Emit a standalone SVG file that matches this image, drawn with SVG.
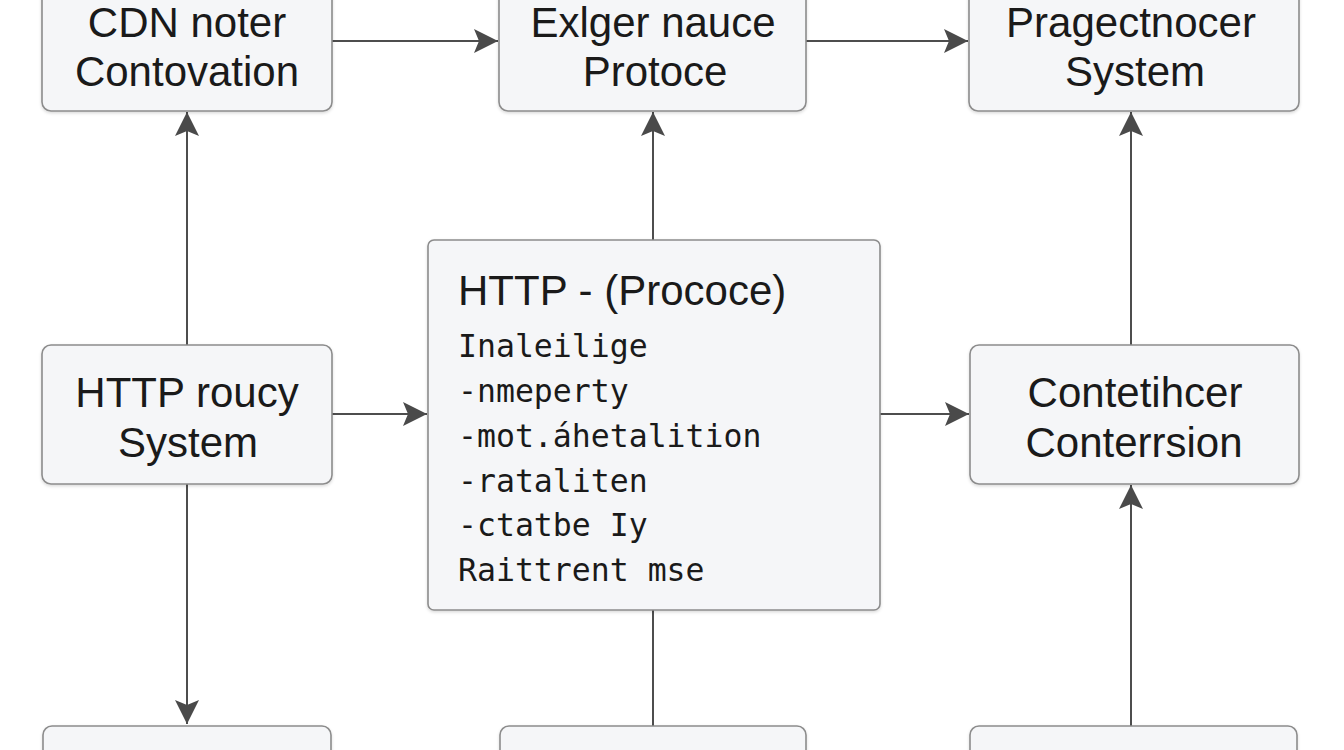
<svg xmlns="http://www.w3.org/2000/svg" width="1344" height="750" viewBox="0 0 1344 750">
  <style>
    .box { fill: #f5f6f8; stroke: #8c8c8c; stroke-width: 1.6; }
    .lbl { font-family: "Liberation Sans", Arial, sans-serif; font-size: 42px; fill: #1a1a1a; text-anchor: middle; }
    .ttl { font-family: "Liberation Sans", Arial, sans-serif; font-size: 42px; fill: #1a1a1a; }
    .mono { font-family: "DejaVu Sans Mono", monospace; font-size: 31.5px; fill: #1a1a1a; }
    .conn { fill: none; stroke: #4d4d4d; stroke-width: 2; }
  </style>
  <defs>
    <marker id="arrow" viewBox="0 0 24 24" refX="24" refY="12" markerWidth="24" markerHeight="24" markerUnits="userSpaceOnUse" orient="auto">
      <path d="M0,0 L24,12 L0,24 L5,12 Z" fill="#4a4a4a"/>
    </marker>
    <filter id="sh" x="-10%" y="-10%" width="120%" height="130%">
      <feDropShadow dx="0" dy="1.5" stdDeviation="1.5" flood-color="#000" flood-opacity="0.15"/>
    </filter>
  </defs>
  <rect x="0" y="0" width="1344" height="750" fill="#ffffff"/>

  <g id="connectors">
    <path class="conn" d="M332,41 H498" marker-end="url(#arrow)"/>
    <path class="conn" d="M806,41 H968" marker-end="url(#arrow)"/>
    <path class="conn" d="M332,414 H427" marker-end="url(#arrow)"/>
    <path class="conn" d="M880,414 H969" marker-end="url(#arrow)"/>
    <path class="conn" d="M187,345 V112" marker-end="url(#arrow)"/>
    <path class="conn" d="M653,240 V112" marker-end="url(#arrow)"/>
    <path class="conn" d="M1131,345 V112" marker-end="url(#arrow)"/>
    <path class="conn" d="M187,484 V724" marker-end="url(#arrow)"/>
    <path class="conn" d="M653,610 V726"/>
    <path class="conn" d="M1131,726 V485" marker-end="url(#arrow)"/>
  </g>

  <g id="node-cdn">
    <rect class="box" x="42" y="-12" width="290" height="123" rx="9" filter="url(#sh)"/>
    <text class="lbl" x="187" y="37">CDN noter</text>
    <text class="lbl" x="187" y="86">Contovation</text>
  </g>
  <g id="node-exlger">
    <rect class="box" x="499" y="-12" width="307" height="123" rx="9" filter="url(#sh)"/>
    <text class="lbl" x="653" y="37">Exlger nauce</text>
    <text class="lbl" x="655" y="86">Protoce</text>
  </g>
  <g id="node-pragect">
    <rect class="box" x="969" y="-12" width="330" height="123" rx="9" filter="url(#sh)"/>
    <text class="lbl" x="1131" y="37">Pragectnocer</text>
    <text class="lbl" x="1135" y="86">System</text>
  </g>
  <g id="node-http-roucy">
    <rect class="box" x="42" y="345" width="290" height="139" rx="9" filter="url(#sh)"/>
    <text class="lbl" x="187" y="407">HTTP roucy</text>
    <text class="lbl" x="188" y="457">System</text>
  </g>
  <g id="node-http-protocol">
    <rect class="box" x="428" y="240" width="452" height="370" rx="6" filter="url(#sh)"/>
    <text class="ttl" x="458" y="305">HTTP - (Prococe)</text>
    <text class="mono" x="458" y="357">Inaleilige</text>
    <text class="mono" x="458" y="402">-nmeperty</text>
    <text class="mono" x="458" y="447">-mot.áhetalition</text>
    <text class="mono" x="458" y="492">-rataliten</text>
    <text class="mono" x="458" y="536">-ctatbe Iy</text>
    <text class="mono" x="458" y="581">Raittrent mse</text>
  </g>
  <g id="node-contetihcer">
    <rect class="box" x="970" y="345" width="329" height="139" rx="9" filter="url(#sh)"/>
    <text class="lbl" x="1135" y="407">Contetihcer</text>
    <text class="lbl" x="1134" y="457">Conterrsion</text>
  </g>
  <g id="node-bottom-left">
    <rect class="box" x="43" y="726" width="288" height="60" rx="9" filter="url(#sh)"/>
  </g>
  <g id="node-bottom-mid">
    <rect class="box" x="500" y="726" width="306" height="60" rx="9" filter="url(#sh)"/>
  </g>
  <g id="node-bottom-right">
    <rect class="box" x="970" y="726" width="327" height="60" rx="9" filter="url(#sh)"/>
  </g>
</svg>
